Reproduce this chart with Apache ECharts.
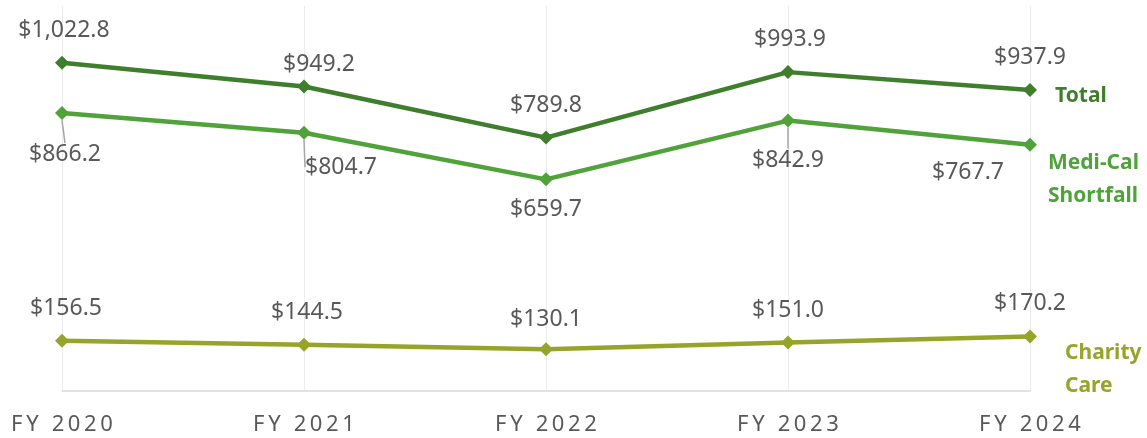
<!DOCTYPE html>
<html>
<head>
<meta charset="utf-8">
<script src="https://cdn.jsdelivr.net/npm/echarts@6/dist/echarts.min.js"></script>
<style>
  html, body { margin: 0; padding: 0; background: #fff; }
  #chart { width: 1147px; height: 438px; }
</style>
</head>
<body>
<div id="chart"></div>
<script>
const categories = ['FY 2020', 'FY 2021', 'FY 2022', 'FY 2023', 'FY 2024']
const total = [1022.8, 949.2, 789.8, 993.9, 937.9]
const mediCal = [866.2, 804.7, 659.7, 842.9, 767.7]
const charity = [156.5, 144.5, 130.1, 151.0, 170.2]

const FONT = '"Noto Sans", sans-serif'
const LABEL_COLOR = '#595959'

// per-point label nudges (layout only)
const totalOffsets = [[2, 0], [15, 10], [0, 0], [2, 0], [0, 0]]
const mediOffsets = [[3, 9], [37, 2], [0, -2], [0, 7], [-62, -5]]
const charityOffsets = [[4, 0], [3, 0], [0, 3], [0, 0], [0, 0]]
const mediLeaders = [true, true, false, true, false]

const money = v => '$' + v.toLocaleString('en-US', { minimumFractionDigits: 1, maximumFractionDigits: 1 })
const spaced = s => s.split('').join('\u2009')

function makeSeries(name, values, color, pos, offsets, endOffset, leaders) {
  return {
    name,
    type: 'line',
    data: values.map((v, i) => ({
      value: v,
      labelLine: { show: !!(leaders && leaders[i]) },
    })),
    symbol: 'diamond',
    symbolSize: 14,
    lineStyle: { width: 4.5, color },
    itemStyle: { color },
    label: {
      show: true,
      position: pos,
      distance: 14,
      formatter: p => money(p.value),
      fontFamily: FONT,
      fontSize: 23,
      color: LABEL_COLOR,
    },
    labelLine: { lineStyle: { color: '#a6a6a6', width: 1.5 } },
    labelLayout: p => {
      const o = offsets[p.dataIndex]
      if (!o || p.text.indexOf('$') !== 0) return {}
      return { dx: o[0], dy: o[1] }
    },
    endLabel: {
      show: true,
      formatter: p => p.seriesName.replace(' ', '\n'),
      fontFamily: FONT,
      fontWeight: 'bold',
      fontSize: 21,
      lineHeight: 33,
      color,
      align: 'left',
      offset: endOffset,
    },
  }
}

const chart = echarts.init(document.getElementById('chart'))
chart.setOption({
  backgroundColor: '#ffffff',
  animation: false,
  grid: { left: 62, right: 117, top: 6, bottom: 47 },
  xAxis: {
    type: 'category',
    data: categories,
    boundaryGap: false,
    axisLine: { lineStyle: { color: '#d9d9d9', width: 1.5 } },
    axisTick: { show: false },
    splitLine: { show: true, lineStyle: { color: '#ececec', width: 1 } },
    axisLabel: {
      margin: 23,
      fontFamily: FONT,
      fontSize: 22,
      color: LABEL_COLOR,
      formatter: v => spaced(v),
    },
  },
  yAxis: {
    type: 'value',
    min: 0,
    max: 1200,
    show: false,
  },
  series: [
    makeSeries('Total', total, '#3f7e2d', 'top', totalOffsets, [17, 6]),
    makeSeries('Medi-Cal Shortfall', mediCal, '#50a23a', 'bottom', mediOffsets, [10, 35], mediLeaders),
    makeSeries('Charity Care', charity, '#97a42a', 'top', charityOffsets, [27, 33]),
  ],
})
</script>
</body>
</html>
